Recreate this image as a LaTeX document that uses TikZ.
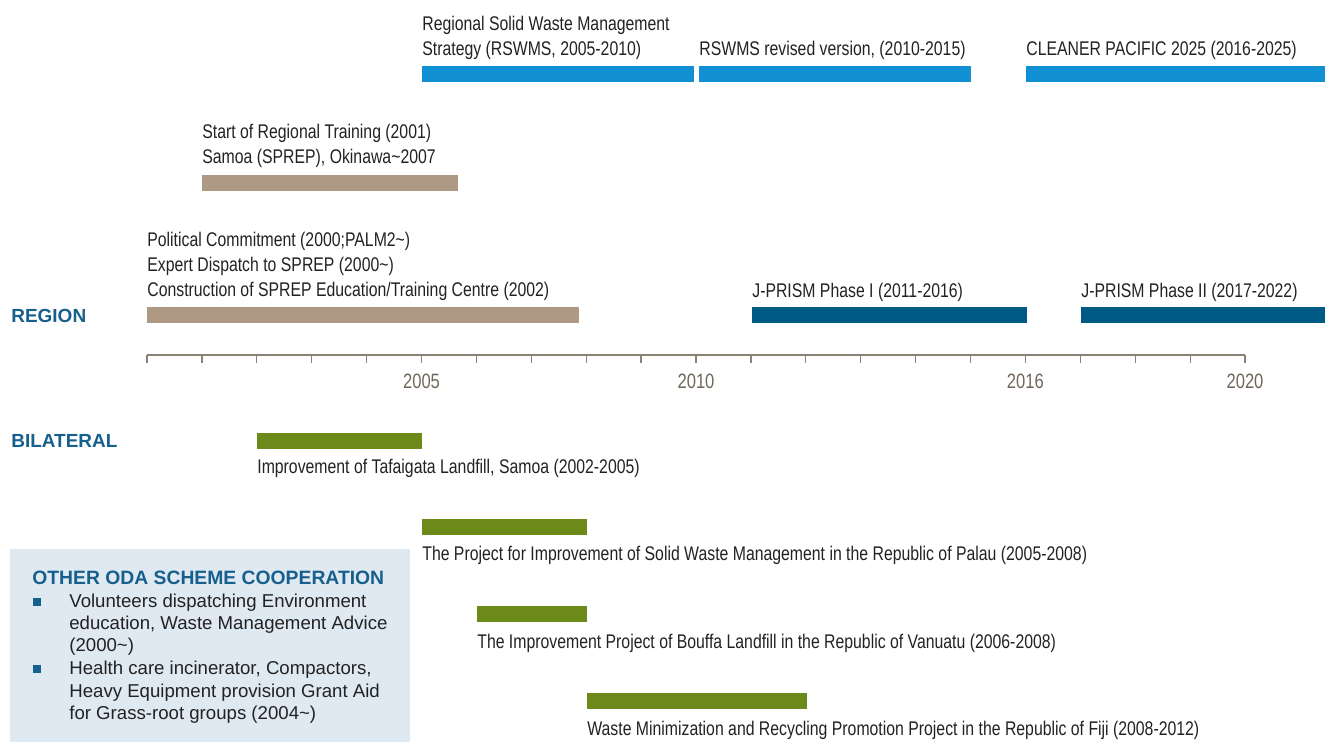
\documentclass[tikz,border=0pt]{standalone}
\usepackage{fontspec}
\setmainfont{Liberation Sans}
\newfontfamily\narrowfont[FakeStretch=0.8]{Liberation Sans}
\definecolor{rswmsblue}{HTML}{1191D4}
\definecolor{japantan}{HTML}{AE9985}
\definecolor{prismblue}{HTML}{005A86}
\definecolor{projgreen}{HTML}{6B8A1A}
\definecolor{headblue}{HTML}{175F8C}
\definecolor{axisgray}{HTML}{8A8273}
\definecolor{yeargray}{HTML}{6F675A}
\definecolor{odafill}{HTML}{DFE9F2}
\definecolor{labeltext}{HTML}{222222}

\begin{document}
\begin{tikzpicture}[x=0.02cm, y=-0.02cm,
    lbl/.style={anchor=base west, inner sep=0pt, text=labeltext, font=\narrowfont\fontsize{11.25}{14}\selectfont},
    year/.style={anchor=base, inner sep=0pt, text=yeargray, font=\narrowfont\fontsize{11.8}{14}\selectfont},
    head/.style={anchor=base west, inner sep=0pt, text=headblue, font=\bfseries\fontsize{10.8}{13}\selectfont},
    odatext/.style={anchor=base west, inner sep=0pt, text=labeltext, font=\fontsize{10.6}{12.8}\selectfont}]
    \useasboundingbox (0,0) rectangle (1325,742);

    % regional strategy
    \fill[rswmsblue] (422,66) rectangle (694,82);
    \fill[rswmsblue] (699,66) rectangle (971,82);
    \fill[rswmsblue] (1026,66) rectangle (1325,82);
    \node[lbl] (rswms1) at (422,31) {Regional Solid Waste Management};
    \node[lbl] (rswms2) at (422,56) {Strategy (RSWMS, 2005-2010)};
    \node[lbl] (revised) at (699,56) {RSWMS revised version, (2010-2015)};
    \node[lbl] (cleaner) at (1026,56) {CLEANER PACIFIC 2025 (2016-2025)};

    % japan support
    \fill[japantan] (202,175) rectangle (458,191);
    \node[lbl] (training1) at (202,139) {Start of Regional Training (2001)};
    \node[lbl] (training2) at (202,164) {Samoa (SPREP), Okinawa\textasciitilde2007};
    \fill[japantan] (147,307) rectangle (579,323);
    \node[lbl] (political) at (147,247) {Political Commitment (2000;PALM2\textasciitilde)};
    \node[lbl] (expert) at (147,272) {Expert Dispatch to SPREP (2000\textasciitilde)};
    \node[lbl] (centre) at (147,297) {Construction of SPREP Education/Training Centre (2002)};

    % j-prism
    \fill[prismblue] (752,307) rectangle (1027,323);
    \fill[prismblue] (1081,307) rectangle (1325,323);
    \node[lbl] (prism1) at (752,298) {J-PRISM Phase I (2011-2016)};
    \node[lbl] (prism2) at (1081,298) {J-PRISM Phase II (2017-2022)};

    \node[head] (region) at (11,323) {REGION};
    \node[head] (bilateral) at (11,448) {BILATERAL};

    % axis
    \draw[axisgray, line width=0.8pt] (147,355) -- (1245,355);
    \foreach \i in {0,...,20}
        \draw[axisgray, line width=0.7pt] (147+54.9*\i,355) -- ++(0,8);
    \node[year] (y2005) at (421.5,389) {2005};
    \node[year] (y2010) at (696,389) {2010};
    \node[year] (y2016) at (1025.4,389) {2016};
    \node[year] (y2020) at (1245,389) {2020};

    % bilateral projects
    \fill[projgreen] (257,433) rectangle (422,449);
    \node[lbl] (samoa) at (257,474) {Improvement of Tafaigata Landfill, Samoa (2002-2005)};
    \fill[projgreen] (422,519) rectangle (587,535);
    \node[lbl] (palau) at (422,561) {The Project for Improvement of Solid Waste Management in the Republic of Palau (2005-2008)};
    \fill[projgreen] (477,606) rectangle (587,622);
    \node[lbl] (vanuatu) at (477,648) {The Improvement Project of Bouffa Landfill in the Republic of Vanuatu (2006-2008)};
    \fill[projgreen] (587,693) rectangle (807,709);
    \node[lbl] (fiji) at (587,735) {Waste Minimization and Recycling Promotion Project in the Republic of Fiji (2008-2012)};

    % other oda box
    \fill[odafill] (10,549) rectangle (410,742);
    \node[head, font=\bfseries\fontsize{11}{13}\selectfont] (odatitle) at (32,585) {OTHER ODA SCHEME COOPERATION};
    \fill[headblue] (33,598) rectangle (41,606);
    \fill[headblue] (33,665) rectangle (41,673);
    \node[odatext] (vol1) at (69,608) {Volunteers dispatching Environment};
    \node[odatext] (vol2) at (69,630) {education, Waste Management Advice};
    \node[odatext] (vol3) at (69,652) {(2000\textasciitilde)};
    \node[odatext] (grant1) at (69,675) {Health care incinerator, Compactors,};
    \node[odatext] (grant2) at (69,697) {Heavy Equipment provision Grant Aid};
    \node[odatext] (grant3) at (69,719) {for Grass-root groups (2004\textasciitilde)};
\end{tikzpicture}
\end{document}
